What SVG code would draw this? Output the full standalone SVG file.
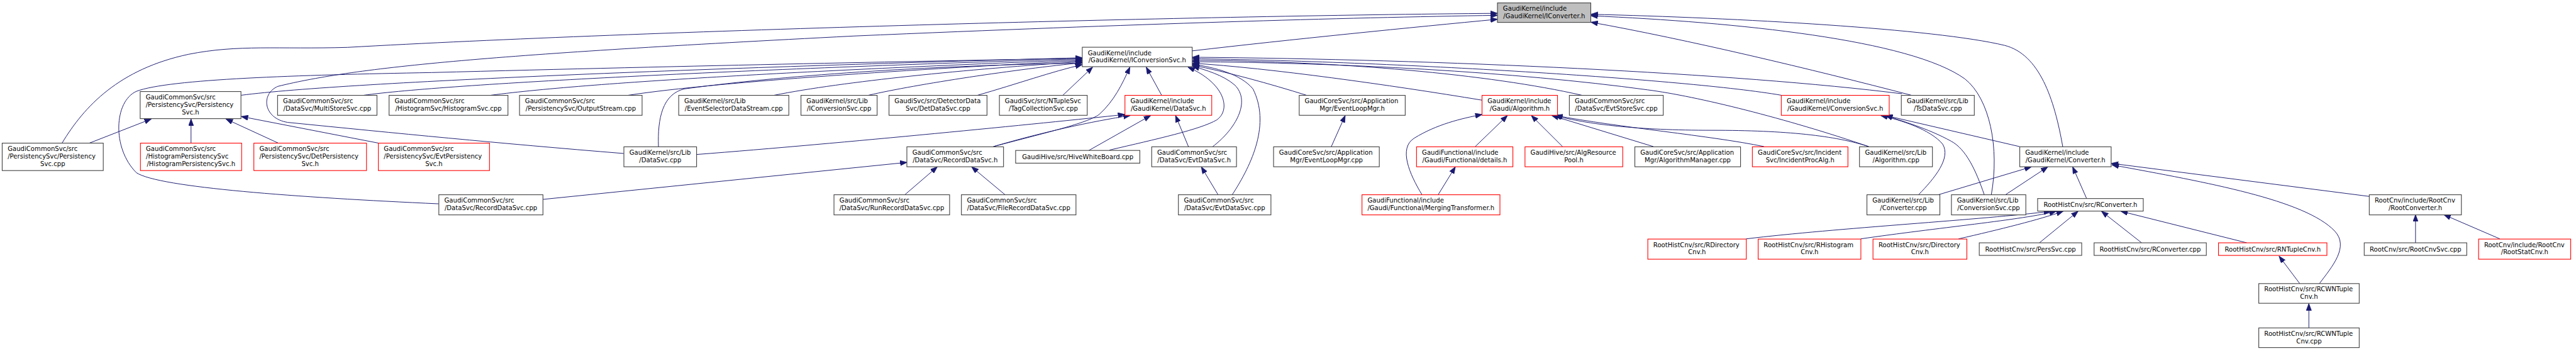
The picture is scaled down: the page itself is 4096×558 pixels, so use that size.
<svg xmlns="http://www.w3.org/2000/svg" width="4096" height="558" viewBox="0 0 4096 558">
<style>
.nd rect{fill:#ffffff;stroke:#404040;stroke-width:1.4}
.nd.red rect{stroke:#ff0000}
.nd.root rect{fill:#bfbfbf;stroke:#404040}
.nd text{font-family:"DejaVu Sans",sans-serif;font-size:12.8px;fill:#000000}
.nd text.c{text-anchor:middle}
#edges path{fill:none;stroke:#191970;stroke-width:1.25;marker-end:url(#ah)}
</style>
<defs>
<marker id="ah" viewBox="0 0 15 11" markerWidth="15" markerHeight="11" refX="14" refY="5.2" orient="auto" markerUnits="userSpaceOnUse">
<path d="M0,0 L14,5.2 L0,10.4 z" fill="#191970" stroke="#191970" stroke-width="1"/>
</marker>
</defs>
<rect x="0" y="0" width="4096" height="558" fill="#ffffff"/>
<g transform="scale(0.789,0.7846)">
<g id="edges">
<path d="M125,290 C170,215 240,140 380,110 C480,90 560,100 700,96 C1300,62 2400,32 3018,27"/>
<path d="M1257,311 C1000,290 800,270 580,248 C530,240 525,190 560,175 C720,135 1000,110 1720,73 C2300,48 2700,36 3018,31"/>
<path d="M2403,103 C2600,80 2850,55 3018,39"/>
<path d="M4157,297 C4140,200 4110,110 4040,92 C3900,58 3500,36 3206,29"/>
<path d="M4013,395 C4030,300 4010,200 3960,160 C3850,80 3500,45 3206,32"/>
<path d="M3852,193 C3650,140 3400,80 3206,45"/>
<path d="M486,193 C700,165 1500,135 2181,117"/>
<path d="M733,193 C900,170 1500,140 2181,119"/>
<path d="M989,193 C1200,165 1700,140 2181,121"/>
<path d="M1266,193 C1450,165 1850,140 2181,123"/>
<path d="M1560,193 C1700,165 1950,140 2181,125"/>
<path d="M1750,193 C1850,170 2050,140 2181,127"/>
<path d="M1970,193 C2050,170 2120,145 2181,131"/>
<path d="M2142,193 L2202,136"/>
<path d="M1327,297 C1325,240 1335,190 1380,180 C1600,150 1900,132 2181,128"/>
<path d="M884,413 C600,400 320,380 275,350 C225,300 230,205 275,185 C340,160 600,152 870,147 C1400,133 1900,123 2181,118"/>
<path d="M2002,297 C2110,268 2190,250 2215,232 C2245,205 2262,170 2277,136"/>
<path d="M2341,193 L2310,136"/>
<path d="M2236,304 C2330,282 2420,262 2452,243 C2482,222 2468,168 2394,136"/>
<path d="M2444,297 C2490,262 2522,205 2488,172 C2465,152 2430,142 2403,134"/>
<path d="M2483,395 C2525,330 2560,250 2525,180 C2500,150 2450,137 2403,130"/>
<path d="M2633,193 C2560,170 2470,145 2403,132"/>
<path d="M2987,203 C2800,172 2560,138 2403,128"/>
<path d="M3188,193 C3000,150 2700,124 2403,122"/>
<path d="M3590,193 C3400,160 2800,124 2403,119"/>
<path d="M3833,190 C3500,148 2900,120 2403,116"/>
<path d="M3766,297 C3600,240 3420,195 3320,182 C3050,145 2700,127 2403,125"/>
<path d="M180,290 L305,241"/>
<path d="M385,290 L385,241"/>
<path d="M561,290 L455,241"/>
<path d="M763,290 L486,236"/>
<path d="M1404,313 C1700,290 2100,250 2267,232"/>
<path d="M2002,297 C2100,268 2200,246 2278,234"/>
<path d="M2194,305 L2319,234"/>
<path d="M2395,297 L2369,234"/>
<path d="M1094,404 L1828,329"/>
<path d="M1823,395 L1889,338"/>
<path d="M2026,395 L1958,338"/>
<path d="M2455,395 L2421,338"/>
<path d="M2683,297 L2711,234"/>
<path d="M2973,297 L3038,234"/>
<path d="M3149,297 L3086,234"/>
<path d="M2866,395 C2840,352 2818,300 2850,280 C2895,252 2945,240 2987,232"/>
<path d="M2898,395 L2933,338"/>
<path d="M3332,297 L3127,234"/>
<path d="M3766,297 C3700,275 3600,264 3450,264 C3300,264 3200,252 3133,234"/>
<path d="M3555,297 C3450,275 3260,258 3135,234"/>
<path d="M3866,395 C3900,360 3932,320 3915,292 C3890,262 3830,243 3790,234"/>
<path d="M3999,395 C3982,345 3962,302 3932,286 C3885,260 3832,245 3800,234"/>
<path d="M4070,297 L3800,234"/>
<path d="M3905,395 L4094,338"/>
<path d="M4041,395 L4127,338"/>
<path d="M4205,402 L4177,338"/>
<path d="M4775,398 L4255,331"/>
<path d="M4674,575 C4700,540 4735,500 4705,468 C4645,405 4450,370 4256,334"/>
<path d="M3519,484 C3700,462 4000,445 4133,428"/>
<path d="M3750,484 C3900,462 4080,445 4144,428"/>
<path d="M3947,484 C4030,465 4110,445 4158,428"/>
<path d="M4110,492 L4188,428"/>
<path d="M4316,492 L4235,428"/>
<path d="M4528,492 L4274,428"/>
<path d="M4635,575 L4593,519"/>
<path d="M4653,664 L4653,615"/>
<path d="M4868,492 L4868,435"/>
<path d="M5038,484 L4925,435"/>
</g>

<g id="n_iconverter" class="nd root"><rect x="3017.8" y="5.9" width="188.1" height="39.5"/><text x="3029" y="21.9">GaudiKernel/include</text><text class="c" x="3111.9" y="36.9">/GaudiKernel/IConverter.h</text></g>
<g id="n_iconvsvc_h" class="nd"><rect x="2181.1" y="95.7" width="221.5" height="39.4"/><text x="2192.3" y="111.7">GaudiKernel/include</text><text class="c" x="2291.9" y="126.7">/GaudiKernel/IConversionSvc.h</text></g>

<g id="n_perssvc_h" class="nd"><rect x="282.5" y="185.5" width="203.1" height="54.9"/><text x="293.6" y="202">GaudiCommonSvc/src</text><text x="293.6" y="217">/PersistencySvc/Persistency</text><text class="c" x="384" y="232">Svc.h</text></g>
<g id="n_multistore" class="nd"><rect x="559.4" y="193.2" width="200.3" height="40.4"/><text x="570.5" y="209.2">GaudiCommonSvc/src</text><text class="c" x="659.6" y="224.2">/DataSvc/MultiStoreSvc.cpp</text></g>
<g id="n_histsvc" class="nd"><rect x="784.1" y="193.2" width="239.6" height="40.4"/><text x="795.2" y="209.2">GaudiCommonSvc/src</text><text class="c" x="903.9" y="224.2">/HistogramSvc/HistogramSvc.cpp</text></g>
<g id="n_outstream" class="nd"><rect x="1047" y="193.2" width="247" height="40.4"/><text x="1058.1" y="209.2">GaudiCommonSvc/src</text><text class="c" x="1170.5" y="224.2">/PersistencySvc/OutputStream.cpp</text></g>
<g id="n_evtseldata" class="nd"><rect x="1367.8" y="193.2" width="221.9" height="40.4"/><text x="1378.9" y="209.2">GaudiKernel/src/Lib</text><text class="c" x="1478.8" y="224.2">/EventSelectorDataStream.cpp</text></g>
<g id="n_iconvsvc_cpp" class="nd"><rect x="1614.2" y="193.2" width="153.5" height="40.4"/><text x="1625.3" y="209.2">GaudiKernel/src/Lib</text><text class="c" x="1691" y="224.2">/IConversionSvc.cpp</text></g>
<g id="n_detdata" class="nd"><rect x="1791.6" y="193.2" width="197.5" height="40.4"/><text x="1802.7" y="209.2">GaudiSvc/src/DetectorData</text><text class="c" x="1890.4" y="224.2">Svc/DetDataSvc.cpp</text></g>
<g id="n_tagcoll" class="nd"><rect x="2014.1" y="193.2" width="177" height="40.4"/><text x="2025.2" y="209.2">GaudiSvc/src/NTupleSvc</text><text class="c" x="2102.6" y="224.2">/TagCollectionSvc.cpp</text></g>
<g id="n_datasvc_h" class="nd red"><rect x="2267.1" y="193.2" width="174.9" height="40.4"/><text x="2278.2" y="209.2">GaudiKernel/include</text><text class="c" x="2354.6" y="224.2">/GaudiKernel/DataSvc.h</text></g>
<g id="n_eventloop_h" class="nd"><rect x="2618.3" y="193.2" width="213.6" height="40.4"/><text x="2629.4" y="209.2">GaudiCoreSvc/src/Application</text><text class="c" x="2725.1" y="224.2">Mgr/EventLoopMgr.h</text></g>
<g id="n_algorithm_h" class="nd red"><rect x="2986.7" y="193.2" width="152.1" height="40.4"/><text x="2997.8" y="209.2">GaudiKernel/include</text><text class="c" x="3062.8" y="224.2">/Gaudi/Algorithm.h</text></g>
<g id="n_evtstore" class="nd"><rect x="3162.7" y="193.2" width="189.2" height="40.4"/><text x="3173.8" y="209.2">GaudiCommonSvc/src</text><text class="c" x="3257.3" y="224.2">/DataSvc/EvtStoreSvc.cpp</text></g>
<g id="n_convsvc_h" class="nd red"><rect x="3589.8" y="193.2" width="217.5" height="40.4"/><text x="3600.9" y="209.2">GaudiKernel/include</text><text class="c" x="3698.6" y="224.2">/GaudiKernel/ConversionSvc.h</text></g>
<g id="n_tsdata" class="nd"><rect x="3831.7" y="193.2" width="147.1" height="40.4"/><text x="3842.8" y="209.2">GaudiKernel/src/Lib</text><text class="c" x="3905.3" y="224.2">/TsDataSvc.cpp</text></g>

<g id="n_perssvc_cpp" class="nd"><rect x="4.4" y="290" width="203.7" height="55.6"/><text x="15.5" y="306.5">GaudiCommonSvc/src</text><text x="15.5" y="321.5">/PersistencySvc/Persistency</text><text class="c" x="106.3" y="336.5">Svc.cpp</text></g>
<g id="n_histpers" class="nd red"><rect x="283" y="290" width="204" height="55.6"/><text x="294.1" y="306.5">GaudiCommonSvc/src</text><text x="294.1" y="321.5">/HistogramPersistencySvc</text><text class="c" x="385" y="336.5">/HistogramPersistencySvc.h</text></g>
<g id="n_detpers" class="nd red"><rect x="511.6" y="290" width="227" height="55.6"/><text x="522.7" y="306.5">GaudiCommonSvc/src</text><text x="522.7" y="321.5">/PersistencySvc/DetPersistency</text><text class="c" x="625.1" y="336.5">Svc.h</text></g>
<g id="n_evtpers" class="nd red"><rect x="762.5" y="290" width="224" height="55.6"/><text x="773.6" y="306.5">GaudiCommonSvc/src</text><text x="773.6" y="321.5">/PersistencySvc/EvtPersistency</text><text class="c" x="874.5" y="336.5">Svc.h</text></g>
<g id="n_datasvc_cpp" class="nd"><rect x="1257.3" y="297.5" width="146.5" height="40.4"/><text x="1268.4" y="313.5">GaudiKernel/src/Lib</text><text class="c" x="1330.6" y="328.5">/DataSvc.cpp</text></g>
<g id="n_recorddata_h" class="nd"><rect x="1827.6" y="297.5" width="194.8" height="40.4"/><text x="1838.7" y="313.5">GaudiCommonSvc/src</text><text class="c" x="1925" y="328.5">/DataSvc/RecordDataSvc.h</text></g>
<g id="n_hive" class="nd"><rect x="2046.8" y="304.8" width="250.3" height="25.8"/><text class="c" x="2172" y="322">GaudiHive/src/HiveWhiteBoard.cpp</text></g>
<g id="n_evtdata_h" class="nd"><rect x="2321" y="297.5" width="170.9" height="40.4"/><text x="2332.1" y="313.5">GaudiCommonSvc/src</text><text class="c" x="2406.5" y="328.5">/DataSvc/EvtDataSvc.h</text></g>
<g id="n_eventloop_cpp" class="nd"><rect x="2566.6" y="297.5" width="213.1" height="40.4"/><text x="2577.7" y="313.5">GaudiCoreSvc/src/Application</text><text class="c" x="2673.2" y="328.5">Mgr/EventLoopMgr.cpp</text></g>
<g id="n_details" class="nd red"><rect x="2854.7" y="297.5" width="194.2" height="40.4"/><text x="2865.8" y="313.5">GaudiFunctional/include</text><text class="c" x="2951.8" y="328.5">/Gaudi/Functional/details.h</text></g>
<g id="n_algres" class="nd red"><rect x="3073.3" y="297.5" width="197" height="40.4"/><text x="3084.4" y="313.5">GaudiHive/src/AlgResource</text><text class="c" x="3171.8" y="328.5">Pool.h</text></g>
<g id="n_algmgr" class="nd"><rect x="3294.7" y="297.5" width="213" height="40.4"/><text x="3305.8" y="313.5">GaudiCoreSvc/src/Application</text><text class="c" x="3401.2" y="328.5">Mgr/AlgorithmManager.cpp</text></g>
<g id="n_incident" class="nd red"><rect x="3531.5" y="297.5" width="192.6" height="40.4"/><text x="3542.6" y="313.5">GaudiCoreSvc/src/Incident</text><text class="c" x="3627.8" y="328.5">Svc/IncidentProcAlg.h</text></g>
<g id="n_algorithm_cpp" class="nd"><rect x="3747.4" y="297.5" width="147" height="40.4"/><text x="3758.5" y="313.5">GaudiKernel/src/Lib</text><text class="c" x="3820.9" y="328.5">/Algorithm.cpp</text></g>
<g id="n_converter_h" class="nd"><rect x="4070.4" y="297.5" width="184.2" height="40.4"/><text x="4081.5" y="313.5">GaudiKernel/include</text><text class="c" x="4162.5" y="328.5">/GaudiKernel/Converter.h</text></g>

<g id="n_recorddata_cpp" class="nd"><rect x="884.4" y="394.6" width="209.8" height="40.8"/><text x="895.5" y="410.6">GaudiCommonSvc/src</text><text class="c" x="989.3" y="425.6">/DataSvc/RecordDataSvc.cpp</text></g>
<g id="n_runrecord" class="nd"><rect x="1680.7" y="394.6" width="233" height="40.8"/><text x="1691.8" y="410.6">GaudiCommonSvc/src</text><text class="c" x="1797.2" y="425.6">/DataSvc/RunRecordDataSvc.cpp</text></g>
<g id="n_filerecord" class="nd"><rect x="1937.5" y="394.6" width="230.9" height="40.8"/><text x="1948.6" y="410.6">GaudiCommonSvc/src</text><text class="c" x="2053" y="425.6">/DataSvc/FileRecordDataSvc.cpp</text></g>
<g id="n_evtdata_cpp" class="nd"><rect x="2374.8" y="394.6" width="186.5" height="40.8"/><text x="2385.9" y="410.6">GaudiCommonSvc/src</text><text class="c" x="2468" y="425.6">/DataSvc/EvtDataSvc.cpp</text></g>
<g id="n_merging" class="nd red"><rect x="2744.8" y="394.6" width="278" height="40.8"/><text x="2755.9" y="410.6">GaudiFunctional/include</text><text class="c" x="2883.8" y="425.6">/Gaudi/Functional/MergingTransformer.h</text></g>
<g id="n_converter_cpp" class="nd"><rect x="3762.4" y="394.6" width="147" height="40.8"/><text x="3773.5" y="410.6">GaudiKernel/src/Lib</text><text class="c" x="3835.9" y="425.6">/Converter.cpp</text></g>
<g id="n_convsvc_cpp" class="nd"><rect x="3932.7" y="394.6" width="149.9" height="40.8"/><text x="3943.8" y="410.6">GaudiKernel/src/Lib</text><text class="c" x="4007.6" y="425.6">/ConversionSvc.cpp</text></g>
<g id="n_rconverter_h" class="nd"><rect x="4106.4" y="402.3" width="212.9" height="25.4"/><text class="c" x="4212.8" y="419.5">RootHistCnv/src/RConverter.h</text></g>
<g id="n_rootconverter_h" class="nd"><rect x="4774.8" y="394.6" width="185.6" height="40.8"/><text x="4785.9" y="410.6">RootCnv/include/RootCnv</text><text class="c" x="4867.6" y="425.6">/RootConverter.h</text></g>

<g id="n_rdircnv" class="nd red"><rect x="3320.8" y="484.4" width="198.5" height="40.8"/><text x="3331.9" y="500.4">RootHistCnv/src/RDirectory</text><text class="c" x="3420" y="515.4">Cnv.h</text></g>
<g id="n_rhistcnv" class="nd red"><rect x="3543.2" y="484.4" width="207" height="40.8"/><text x="3554.3" y="500.4">RootHistCnv/src/RHistogram</text><text class="c" x="3646.7" y="515.4">Cnv.h</text></g>
<g id="n_dircnv" class="nd red"><rect x="3774.6" y="484.4" width="189.2" height="40.8"/><text x="3785.7" y="500.4">RootHistCnv/src/Directory</text><text class="c" x="3869.2" y="515.4">Cnv.h</text></g>
<g id="n_perssvc_rh" class="nd"><rect x="3988.8" y="492" width="206.4" height="25.5"/><text class="c" x="4092" y="509.2">RootHistCnv/src/PersSvc.cpp</text></g>
<g id="n_rconverter_cpp" class="nd"><rect x="4220.2" y="492" width="226.2" height="25.5"/><text class="c" x="4333.3" y="509.2">RootHistCnv/src/RConverter.cpp</text></g>
<g id="n_rntuple" class="nd red"><rect x="4470.9" y="492" width="218.5" height="25.5"/><text class="c" x="4580.2" y="509.2">RootHistCnv/src/RNTupleCnv.h</text></g>
<g id="n_rootcnvsvc" class="nd"><rect x="4764.6" y="492" width="206.6" height="25.5"/><text class="c" x="4867.9" y="509.2">RootCnv/src/RootCnvSvc.cpp</text></g>
<g id="n_rootstat" class="nd red"><rect x="4995.1" y="484.4" width="185.6" height="40.8"/><text x="5006.2" y="500.4">RootCnv/include/RootCnv</text><text class="c" x="5087.9" y="515.4">/RootStatCnv.h</text></g>

<g id="n_rcwn_h" class="nd"><rect x="4552.1" y="574.6" width="202.4" height="39.9"/><text x="4563.2" y="590.6">RootHistCnv/src/RCWNTuple</text><text class="c" x="4653.3" y="605.6">Cnv.h</text></g>
<g id="n_rcwn_cpp" class="nd"><rect x="4552.1" y="664.4" width="202.4" height="39.9"/><text x="4563.2" y="680.4">RootHistCnv/src/RCWNTuple</text><text class="c" x="4653.3" y="695.4">Cnv.cpp</text></g>
</g>
</svg>
